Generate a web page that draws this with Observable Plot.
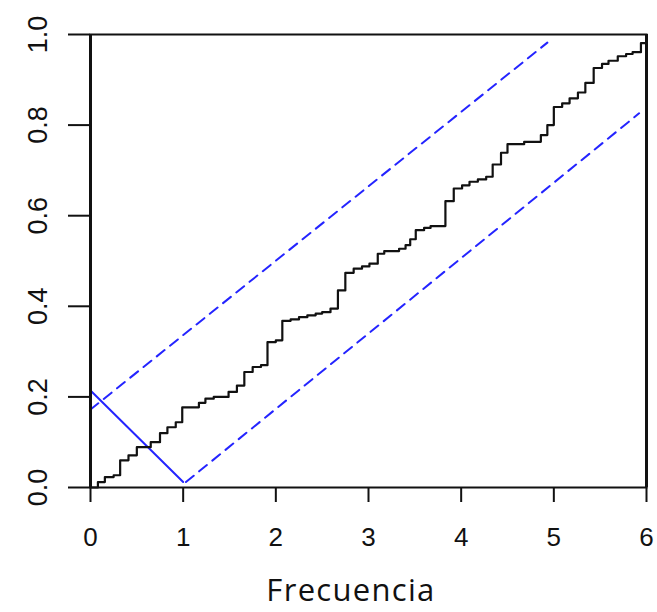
<!DOCTYPE html>
<html><head><meta charset="utf-8">
<script src="https://cdn.jsdelivr.net/npm/d3@7"></script>
<script src="https://cdn.jsdelivr.net/npm/@observablehq/plot@0.6"></script>
<style>
body{margin:0;background:#fff}
#wrap{position:relative;width:657px;height:612px}
#xlab{position:absolute;left:0;width:702px;top:574px;text-align:center;font-family:"Open Sans";font-size:31px;letter-spacing:1.3px;line-height:30px;color:#111}
</style></head><body><div id="wrap"><div id="xlab">Frecuencia</div></div>
<script>
// Empirical step curve: jump positions and levels
const stepX = [0, 0.08, 0.155, 0.25, 0.32, 0.41, 0.50, 0.65, 0.75, 0.83, 0.92, 0.99, 1.17, 1.24, 1.33, 1.49, 1.58, 1.66, 1.75, 1.84, 1.91, 2.00, 2.07, 2.16, 2.25, 2.34, 2.43, 2.50, 2.59, 2.67, 2.75, 2.84, 2.93, 3.01, 3.10, 3.17, 3.33, 3.40, 3.45, 3.51, 3.60, 3.67, 3.83, 3.92, 4.01, 4.09, 4.18, 4.27, 4.34, 4.43, 4.50, 4.68, 4.86, 4.93, 5.00, 5.09, 5.17, 5.26, 5.34, 5.43, 5.52, 5.59, 5.69, 5.78, 5.85, 5.94, 6.00];
const stepY = [0, 0.012, 0.023, 0.027, 0.060, 0.071, 0.089, 0.100, 0.120, 0.133, 0.144, 0.177, 0.187, 0.196, 0.200, 0.211, 0.225, 0.255, 0.266, 0.270, 0.321, 0.325, 0.368, 0.371, 0.376, 0.380, 0.384, 0.387, 0.395, 0.435, 0.474, 0.483, 0.488, 0.494, 0.516, 0.522, 0.527, 0.535, 0.548, 0.568, 0.573, 0.577, 0.632, 0.660, 0.667, 0.675, 0.680, 0.686, 0.713, 0.739, 0.758, 0.763, 0.778, 0.800, 0.840, 0.848, 0.859, 0.872, 0.893, 0.926, 0.935, 0.942, 0.952, 0.957, 0.961, 0.981, 0.981];
// Band lines (dashed) and solid diagonal
const upperX = [0, 4.93], upperY = [0.172, 0.982];
const lowerX = [1.03, 5.92], lowerY = [0.012, 0.826];
const diagX = [0, 1.0], diagY = [0.214, 0.012];
const xTicks = [0, 1, 2, 3, 4, 5, 6];
const yTicks = [0, 0.2, 0.4, 0.6, 0.8, 1.0];
const xEdges = [0, 6];

const zip = (xs, ys) => xs.map((x, i) => ({x, y: ys[i]}));
const step = zip(stepX, stepY);
const upper = zip(upperX, upperY);
const lower = zip(lowerX, lowerY);
const diag = zip(diagX, diagY);

const blue = "#2424ff";
const chart = Plot.plot({
  width: 657, height: 612,
  marginLeft: 90, marginRight: 11, marginTop: 34, marginBottom: 125,
  x: {domain: [0, 6]},
  y: {domain: [0, 1]},
  style: {fontFamily: "Liberation Sans", fontSize: "24px", color: "#111", background: "#fff"},
  marks: [
    Plot.line(upper, {x: "x", y: "y", stroke: blue, strokeWidth: 2, strokeDasharray: "10,7"}),
    Plot.line(lower, {x: "x", y: "y", stroke: blue, strokeWidth: 2, strokeDasharray: "10,7"}),
    Plot.line(diag, {x: "x", y: "y", stroke: blue, strokeWidth: 2}),
    Plot.line(step, {x: "x", y: "y", curve: "step-after", stroke: "#111", strokeWidth: 2.2}),
    Plot.frame({stroke: "#111", strokeWidth: 2}),
    Plot.ruleX(xEdges, {stroke: "#111", strokeWidth: 3}),
    Plot.axisX(xTicks, {tickSize: 15, tickPadding: 25, fontSize: 26, strokeWidth: 2, label: null}),
    Plot.axisY(yTicks, {tickSize: 22, tickPadding: 22, tickRotate: -90, fontSize: 27, strokeWidth: 2, label: null, tickFormat: d => d.toFixed(1)})
  ]
});
document.getElementById("wrap").prepend(chart);
</script>
</body></html>
